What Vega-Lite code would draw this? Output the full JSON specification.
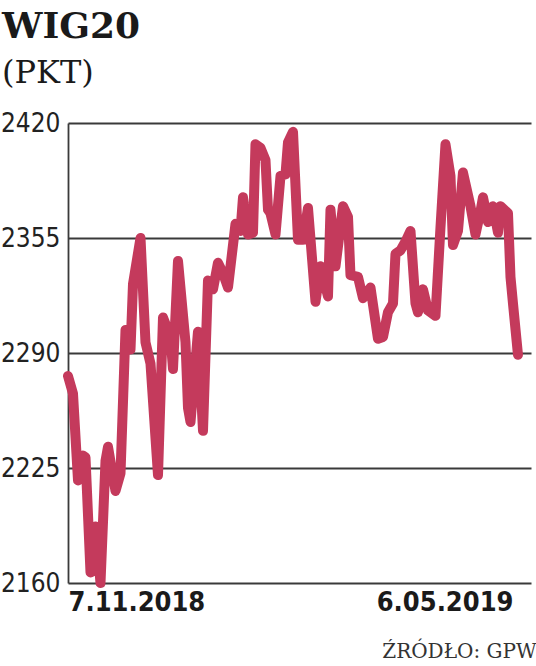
{
  "$schema": "https://vega.github.io/schema/vega-lite/v6.json",
  "width": 463,
  "height": 460,
  "autosize": {"type": "none"},
  "padding": {"left": 68, "top": 123, "right": 5, "bottom": 83},
  "background": "white",
  "config": {"view": {"stroke": null}},
  "title": {
    "text": "WIG20",
    "subtitle": "(PKT)",
    "anchor": "start",
    "frame": "group",
    "dx": -66,
    "offset": 20,
    "font": "DejaVu Serif",
    "fontSize": 36,
    "fontWeight": "bold",
    "color": "#1a1a1a",
    "subtitleFont": "DejaVu Serif",
    "subtitleFontSize": 32,
    "subtitleColor": "#1a1a1a",
    "subtitlePadding": 12
  },
  "data": {
    "values": [
      {"date": "2018-11-07", "value": 2277},
      {"date": "2018-11-09", "value": 2267},
      {"date": "2018-11-11", "value": 2218},
      {"date": "2018-11-13", "value": 2232},
      {"date": "2018-11-14", "value": 2231},
      {"date": "2018-11-16", "value": 2166},
      {"date": "2018-11-18", "value": 2192},
      {"date": "2018-11-20", "value": 2160},
      {"date": "2018-11-22", "value": 2229},
      {"date": "2018-11-23", "value": 2237},
      {"date": "2018-11-26", "value": 2212},
      {"date": "2018-11-28", "value": 2222},
      {"date": "2018-11-30", "value": 2303},
      {"date": "2018-12-02", "value": 2292},
      {"date": "2018-12-03", "value": 2329},
      {"date": "2018-12-06", "value": 2355},
      {"date": "2018-12-08", "value": 2296},
      {"date": "2018-12-10", "value": 2284},
      {"date": "2018-12-13", "value": 2221},
      {"date": "2018-12-15", "value": 2310},
      {"date": "2018-12-18", "value": 2299},
      {"date": "2018-12-19", "value": 2281},
      {"date": "2018-12-21", "value": 2342},
      {"date": "2018-12-24", "value": 2296},
      {"date": "2018-12-25", "value": 2259},
      {"date": "2018-12-26", "value": 2251},
      {"date": "2018-12-29", "value": 2302},
      {"date": "2018-12-31", "value": 2246},
      {"date": "2019-01-02", "value": 2331},
      {"date": "2019-01-04", "value": 2326},
      {"date": "2019-01-06", "value": 2341},
      {"date": "2019-01-08", "value": 2335},
      {"date": "2019-01-10", "value": 2327},
      {"date": "2019-01-13", "value": 2363},
      {"date": "2019-01-15", "value": 2359},
      {"date": "2019-01-16", "value": 2378},
      {"date": "2019-01-18", "value": 2357},
      {"date": "2019-01-20", "value": 2358},
      {"date": "2019-01-21", "value": 2408},
      {"date": "2019-01-23", "value": 2406},
      {"date": "2019-01-25", "value": 2399},
      {"date": "2019-01-26", "value": 2371},
      {"date": "2019-01-27", "value": 2369},
      {"date": "2019-01-29", "value": 2357},
      {"date": "2019-01-31", "value": 2390},
      {"date": "2019-02-02", "value": 2391},
      {"date": "2019-02-03", "value": 2409},
      {"date": "2019-02-05", "value": 2415},
      {"date": "2019-02-07", "value": 2354},
      {"date": "2019-02-09", "value": 2354},
      {"date": "2019-02-11", "value": 2372},
      {"date": "2019-02-14", "value": 2319},
      {"date": "2019-02-16", "value": 2339},
      {"date": "2019-02-19", "value": 2322},
      {"date": "2019-02-20", "value": 2371},
      {"date": "2019-02-22", "value": 2339},
      {"date": "2019-02-25", "value": 2373},
      {"date": "2019-02-27", "value": 2367},
      {"date": "2019-02-28", "value": 2334},
      {"date": "2019-03-03", "value": 2333},
      {"date": "2019-03-05", "value": 2321},
      {"date": "2019-03-08", "value": 2327},
      {"date": "2019-03-11", "value": 2298},
      {"date": "2019-03-13", "value": 2299},
      {"date": "2019-03-15", "value": 2313},
      {"date": "2019-03-17", "value": 2318},
      {"date": "2019-03-18", "value": 2346},
      {"date": "2019-03-20", "value": 2348},
      {"date": "2019-03-22", "value": 2353},
      {"date": "2019-03-24", "value": 2359},
      {"date": "2019-03-26", "value": 2318},
      {"date": "2019-03-27", "value": 2313},
      {"date": "2019-03-29", "value": 2326},
      {"date": "2019-03-31", "value": 2314},
      {"date": "2019-04-03", "value": 2311},
      {"date": "2019-04-05", "value": 2361},
      {"date": "2019-04-07", "value": 2408},
      {"date": "2019-04-09", "value": 2390},
      {"date": "2019-04-10", "value": 2351},
      {"date": "2019-04-12", "value": 2359},
      {"date": "2019-04-14", "value": 2392},
      {"date": "2019-04-17", "value": 2373},
      {"date": "2019-04-19", "value": 2357},
      {"date": "2019-04-21", "value": 2370},
      {"date": "2019-04-22", "value": 2378},
      {"date": "2019-04-24", "value": 2364},
      {"date": "2019-04-26", "value": 2373},
      {"date": "2019-04-28", "value": 2358},
      {"date": "2019-04-29", "value": 2373},
      {"date": "2019-05-02", "value": 2369},
      {"date": "2019-05-03", "value": 2333},
      {"date": "2019-05-04", "value": 2318},
      {"date": "2019-05-06", "value": 2289}
    ]
  },
  "mark": {
    "type": "line",
    "color": "#c43a5c",
    "strokeWidth": 10,
    "strokeJoin": "round",
    "strokeCap": "round",
    "clip": false
  },
  "encoding": {
    "x": {
      "field": "date",
      "type": "temporal",
      "scale": {
        "type": "utc",
        "domain": [
          {"year": 2018, "month": 11, "date": 7, "utc": true},
          {"year": 2019, "month": 5, "date": 11, "hours": 5, "utc": true}
        ]
      },
      "axis": {
        "values": [
          {"year": 2018, "month": 11, "date": 7, "utc": true},
          {"year": 2019, "month": 5, "date": 4, "utc": true}
        ],
        "labelExpr": "datum.value < datetime(2019, 0, 1) ? '7.11.2018' : '6.05.2019'",
        "labelAlign": {"condition": {"test": "datum.value < datetime(2019, 0, 1)", "value": "left"}, "value": "right"},
        "labelBaseline": "top",
        "labelPadding": 6,
        "labelFont": "DejaVu Sans Condensed, Roboto",
        "labelFontSize": 27,
        "labelFontWeight": "bold",
        "labelColor": "#1a1a1a",
        "labelFlush": false,
        "labelOverlap": false,
        "ticks": false,
        "grid": false,
        "domain": false,
        "title": "ŹRÓDŁO: GPW",
        "titleX": 468,
        "titleY": 74,
        "titleAlign": "right",
        "titleBaseline": "alphabetic",
        "titleFont": "DejaVu Serif",
        "titleFontSize": 20,
        "titleFontWeight": "normal",
        "titleColor": "#333333"
      }
    },
    "y": {
      "field": "value",
      "type": "quantitative",
      "scale": {"domain": [2160, 2420], "nice": false, "zero": false},
      "axis": {
        "values": [2160, 2225, 2290, 2355, 2420],
        "format": "d",
        "grid": true,
        "gridColor": "#3a3a3a",
        "gridWidth": 1.8,
        "domain": true,
        "domainColor": "#3a3a3a",
        "domainWidth": 1.8,
        "ticks": false,
        "labelPadding": 8,
        "labelFont": "DejaVu Sans Condensed, Roboto",
        "labelFontSize": 26,
        "labelFontWeight": "normal",
        "labelColor": "#222222",
        "labelFlush": false,
        "labelOverlap": false,
        "title": null
      }
    }
  }
}
